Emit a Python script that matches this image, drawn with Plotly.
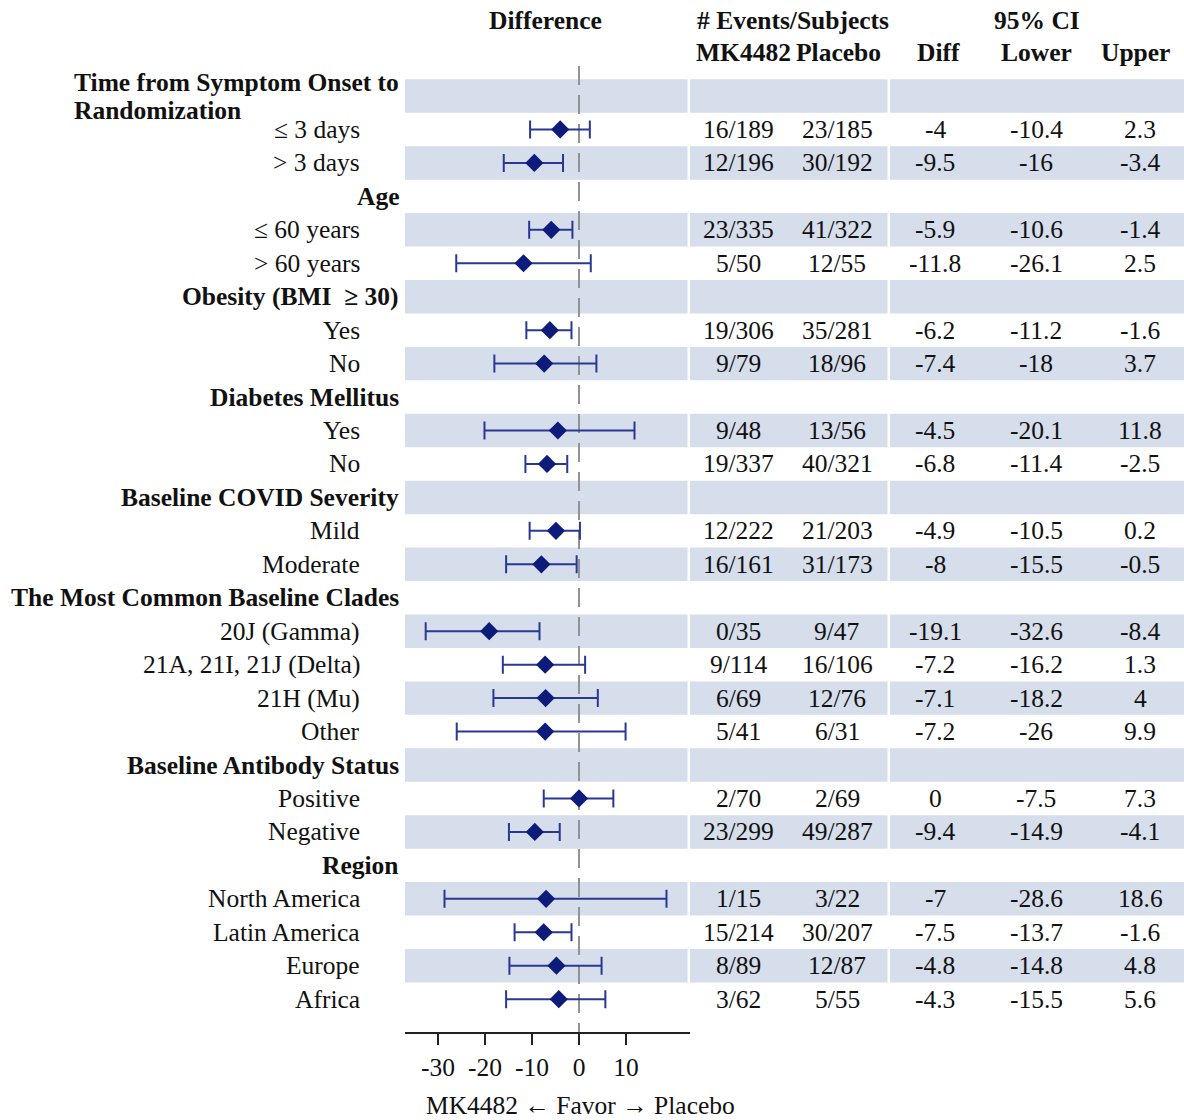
import plotly.graph_objects as go

# ---------------- data ----------------
labels = ["Time from Symptom Onset to<br>Randomization", "≤ 3 days", "> 3 days",
          "Age", "≤ 60 years", "> 60 years",
          "Obesity (BMI \u00a0≥ 30)", "Yes", "No",
          "Diabetes Mellitus", "Yes", "No",
          "Baseline COVID Severity", "Mild", "Moderate",
          "The Most Common Baseline Clades", "20J (Gamma)", "21A, 21I, 21J (Delta)", "21H (Mu)", "Other",
          "Baseline Antibody Status", "Positive", "Negative",
          "Region", "North America", "Latin America", "Europe", "Africa"]
is_header = [True, False, False,
             True, False, False,
             True, False, False,
             True, False, False,
             True, False, False,
             True, False, False, False, False,
             True, False, False,
             True, False, False, False, False]
mk_events = [None, "16/189", "12/196", None, "23/335", "5/50", None, "19/306", "9/79",
             None, "9/48", "19/337", None, "12/222", "16/161",
             None, "0/35", "9/114", "6/69", "5/41", None, "2/70", "23/299",
             None, "1/15", "15/214", "8/89", "3/62"]
pl_events = [None, "23/185", "30/192", None, "41/322", "12/55", None, "35/281", "18/96",
             None, "13/56", "40/321", None, "21/203", "31/173",
             None, "9/47", "16/106", "12/76", "6/31", None, "2/69", "49/287",
             None, "3/22", "30/207", "12/87", "5/55"]
diff = [None, -4, -9.5, None, -5.9, -11.8, None, -6.2, -7.4,
        None, -4.5, -6.8, None, -4.9, -8,
        None, -19.1, -7.2, -7.1, -7.2, None, 0, -9.4,
        None, -7, -7.5, -4.8, -4.3]
lower = [None, -10.4, -16, None, -10.6, -26.1, None, -11.2, -18,
         None, -20.1, -11.4, None, -10.5, -15.5,
         None, -32.6, -16.2, -18.2, -26, None, -7.5, -14.9,
         None, -28.6, -13.7, -14.8, -15.5]
upper = [None, 2.3, -3.4, None, -1.4, 2.5, None, -1.6, 3.7,
         None, 11.8, -2.5, None, 0.2, -0.5,
         None, -8.4, 1.3, 4, 9.9, None, 7.3, -4.1,
         None, 18.6, -1.6, 4.8, 5.6]
tick_vals = [-30, -20, -10, 0, 10]
tick_text = ["-30", "-20", "-10", "0", "10"]

# ---------------- layout helpers ----------------
W, H = 1184, 1120
ROW0, STEP = 96.0, 33.45
AXIS_Y = 1032

def px2row(p):
    return (p - ROW0) / STEP

def px(xp):
    return xp / W

FONT = "Liberation Serif, Times New Roman, serif"
TXT = "#111111"
BAND = "#d6ddeb"
NAVY = "#0d1b7a"
FS = 25.5

n = len(labels)
idx = list(range(n))
data_idx = [i for i in idx if not is_header[i]]

fig = go.Figure()

# bands
shapes = []
for i in idx:
    if i % 2 == 0:
        for (a, b) in [(405, 687.5), (690, 887.5), (890, 1184)]:
            shapes.append(dict(type="rect", xref="paper", yref="y",
                               x0=px(a), x1=px(b), y0=i - 0.5, y1=i + 0.5,
                               fillcolor=BAND, line=dict(width=0), layer="below"))
# dashed zero line
shapes.append(dict(type="line", xref="x", yref="y", x0=0, x1=0,
                   y0=px2row(66), y1=px2row(AXIS_Y),
                   line=dict(color="#939393", width=2, dash="19px,10px"), layer="below"))

fig.add_trace(go.Scatter(
    x=[diff[i] for i in data_idx],
    y=data_idx,
    mode="markers",
    marker=dict(symbol="diamond", size=14, color=NAVY),
    error_x=dict(type="data", symmetric=False,
                 array=[upper[i] - diff[i] for i in data_idx],
                 arrayminus=[diff[i] - lower[i] for i in data_idx],
                 color="#2a3895", thickness=2, width=9),
    cliponaxis=False, showlegend=False, hoverinfo="skip"))

ann = []
def add(text, xp, row, anchor="center", bold=False, align="center", yref="y"):
    ann.append(dict(text=("<b>%s</b>" % text) if bold else text,
                    xref="paper", yref=yref, x=px(xp), y=row,
                    xanchor=anchor, yanchor="middle", showarrow=False, align=align,
                    font=dict(family=FONT, size=FS, color=TXT)))

for i in idx:
    if is_header[i]:
        if "<br>" in labels[i]:
            first, second = labels[i].split("<br>")
            add(first, 401, px2row(82), anchor="right", bold=True)
            add(second, 72, px2row(110), anchor="left", bold=True)
        else:
            add(labels[i], 401, i, anchor="right", bold=True)
    else:
        add(labels[i], 362, i, anchor="right")
        add(mk_events[i], 738, i)
        add(pl_events[i], 837, i)
        add(f"{diff[i]:g}", 935, i)
        add(f"{lower[i]:g}", 1036, i)
        add(f"{upper[i]:g}", 1140, i)

# column headers
add("Difference", 545, px2row(20), bold=True)
add("# Events/Subjects", 793, px2row(20), bold=True)
add("95% CI", 1037, px2row(20), bold=True)
add("MK4482", 743, px2row(52), bold=True)
add("Placebo", 838, px2row(52), bold=True)
add("Diff", 938, px2row(52), bold=True)
add("Lower", 1036, px2row(52), bold=True)
add("Upper", 1135, px2row(52), bold=True)
# axis title
add("MK4482 ← Favor → Placebo", 580, (AXIS_Y - 1105) / AXIS_Y, yref="paper")

fig.update_layout(
    width=W, height=H,
    margin=dict(l=0, r=0, t=0, b=H - AXIS_Y, pad=0),
    paper_bgcolor="white", plot_bgcolor="rgba(0,0,0,0)",
    shapes=shapes, annotations=ann,
    xaxis=dict(domain=[405 / W, 690 / W], range=[-37, 23.6],
               showgrid=False, zeroline=False, showline=True,
               linecolor="#222222", linewidth=2,
               ticks="outside", ticklen=11, tickwidth=2, tickcolor="#222222",
               tickvals=tick_vals, ticktext=tick_text, ticklabelstandoff=0,
               tickfont=dict(family=FONT, size=FS, color=TXT), fixedrange=True),
    yaxis=dict(domain=[0, 1], range=[px2row(AXIS_Y), px2row(0)], visible=False,
               fixedrange=True),
)

fig.write_html("out.html", config={"displayModeBar": False},
               post_script="document.body.style.margin='0';document.body.style.overflow='hidden';")
